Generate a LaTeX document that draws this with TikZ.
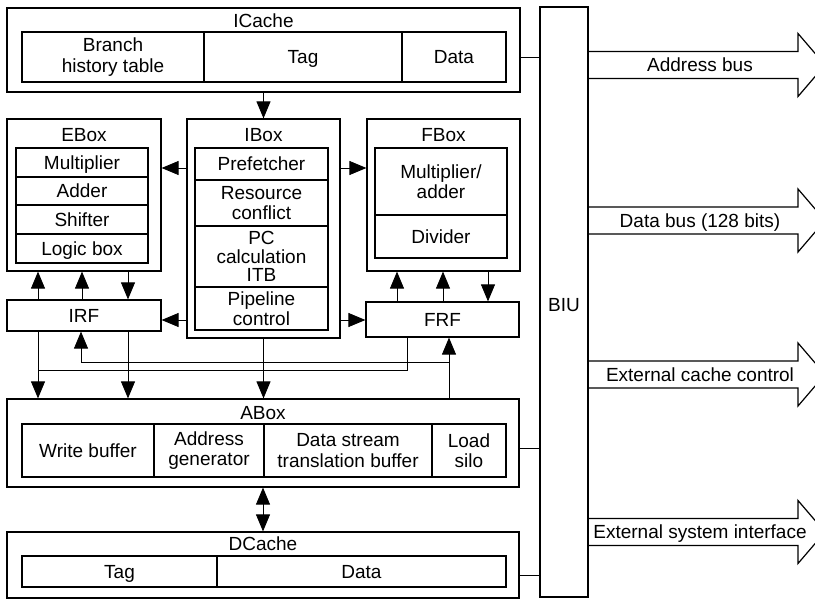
\documentclass[tikz,border=0pt]{standalone}
\usepackage{fontspec}
\setmainfont{Liberation Sans}
\usetikzlibrary{arrows.meta}
\tikzset{
  bxs/.style={draw, line width=1.2pt, inner sep=0pt, align=center},
  oneline/.style={text height=13.7pt, text depth=0pt},
  ttl/.style={inner sep=0pt, align=center},
  arr/.style={line width=0.9pt, -{Triangle[length=17pt,width=14pt]}},
  arrtwo/.style={line width=0.9pt, {Triangle[length=17pt,width=14pt]}-{Triangle[length=17pt,width=14pt]}},
  ln/.style={line width=0.9pt},
  bus/.style={line width=1.2pt, line join=miter},
}
\newcommand\mkbox[6]{\node[bxs, minimum width={(#4-#2)*1pt}, minimum height={(#5-#3)*1pt}] (#1) at ({(#2+#4)/2},{(#3+#5)/2}) {#6};}
\newcommand\mkboxs[6]{\node[bxs, oneline, minimum width={(#4-#2)*1pt}, minimum height={(#5-#3)*1pt}] (#1) at ({(#2+#4)/2},{(#3+#5)/2}) {#6};}
\newcommand\busarrow[3]{%
  \draw[bus] (BIU.east |- 0,#2-13.5) -- (798,#2-13.5) -- (798,#2-31.5) -- (825,#2) -- (798,#2+31.5) -- (798,#2+13.5) -- (BIU.east |- 0,#2+13.5);
  \node[ttl, oneline] (#1) at (700,#2) {#3};}
\begin{document}
\begin{tikzpicture}[x=1pt,y=-1pt,font=\fontsize{19}{20.5}\selectfont]
\useasboundingbox (0,0) rectangle (815,599);
\clip (0,0) rectangle (815,599);
% ICache
\mkbox{ICache}{7}{8}{520}{92}{}
\node[ttl, oneline] (ICacheT) at (263.5,21) {ICache};
\mkbox{ic1}{22}{32}{204}{82}{Branch\\history table}
\mkboxs{ic2}{204}{32}{402}{82}{Tag}
\mkboxs{ic3}{402}{32}{506}{82}{Data}
% EBox
\mkbox{EBox}{7}{119}{161}{271}{}
\node[ttl, oneline] (EBoxT) at (84,135) {EBox};
\mkboxs{eb1}{16}{148}{148}{177}{Multiplier}
\mkboxs{eb2}{16}{177}{148}{205}{Adder}
\mkboxs{eb3}{16}{205}{148}{234}{Shifter}
\mkboxs{eb4}{16}{234}{148}{263}{Logic box}
% IBox
\mkbox{IBox}{187}{119}{340}{338}{}
\node[ttl, oneline] (IBoxT) at (263.5,135) {IBox};
\mkboxs{ib1}{195}{148}{328}{180}{Prefetcher}
\mkbox{ib2}{195}{180}{328}{226}{Resource\\conflict}
\node[bxs, minimum width=133pt, minimum height=61pt, font=\fontsize{19}{18.5}\selectfont] (ib3) at (261.5,256.5) {PC\\calculation\\ITB};
\mkbox{ib4}{195}{287}{328}{330}{Pipeline\\control}
% FBox
\mkbox{FBox}{367}{119}{520}{271}{}
\node[ttl, oneline] (FBoxT) at (443.5,135) {FBox};
\mkbox{fb1}{375}{148}{507}{215}{Multiplier/\\adder}
\mkboxs{fb2}{375}{215}{507}{258}{Divider}
% register files
\mkboxs{IRF}{7}{300}{161}{331}{IRF}
\mkboxs{FRF}{366}{302}{519}{337}{FRF}
% ABox
\mkbox{ABox}{7}{399}{519}{487}{}
\node[ttl, oneline] (ABoxT) at (263,413) {ABox};
\mkboxs{ab1}{22}{424}{154}{477}{Write buffer}
\mkbox{ab2}{154}{424}{264}{477}{Address\\generator}
\mkbox{ab3}{264}{424}{432}{477}{Data stream\\translation buffer}
\mkbox{ab4}{432}{424}{506}{477}{Load\\silo}
% DCache
\mkbox{DCache}{7}{532}{519}{598}{}
\node[ttl, oneline] (DCacheT) at (263,544) {DCache};
\mkboxs{dc1}{22}{556}{217}{587}{Tag}
\mkboxs{dc2}{217}{556}{506}{587}{Data}
% BIU
\mkbox{BIU}{540}{7}{588}{597}{}
\node[ttl, oneline] (BIUT) at (564,305) {BIU};
% connectors to BIU
\draw[ln] (ICache.east |- 0,57) -- (BIU.west |- 0,57);
\draw[ln] (ABox.east |- 0,448) -- (BIU.west |- 0,448);
\draw[ln] (DCache.east |- 0,575) -- (BIU.west |- 0,575);
% ICache -> IBox
\draw[arr] (ICache.south) -- (IBox.north);
% IBox side arrows
\draw[arr] (IBox.west |- 0,168) -- (EBox.east |- 0,168);
\draw[arr] (IBox.east |- 0,168) -- (FBox.west |- 0,168);
\draw[arr] (IBox.west |- 0,320) -- (IRF.east |- 0,320);
\draw[arr] (IBox.east |- 0,320) -- (FRF.west |- 0,320);
% EBox <-> IRF
\draw[arr] (IRF.north -| 38,0) -- (EBox.south -| 38,0);
\draw[arr] (IRF.north -| 82,0) -- (EBox.south -| 82,0);
\draw[arr] (EBox.south -| 128,0) -- (IRF.north -| 128,0);
% FBox <-> FRF
\draw[arr] (FRF.north -| 397,0) -- (FBox.south -| 397,0);
\draw[arr] (FRF.north -| 443,0) -- (FBox.south -| 443,0);
\draw[arr] (FBox.south -| 488,0) -- (FRF.north -| 488,0);
% IRF -> ABox
\draw[arr] (IRF.south -| 38,0) -- (ABox.north -| 38,0);
\draw[arr] (IRF.south -| 128,0) -- (ABox.north -| 128,0);
% ABox -> FRF and IRF
\coordinate (j1) at (449,362);
\coordinate (j2) at (81,362);
\draw[arr] (ABox.north -| j1) -- (FRF.south -| j1);
\draw[arr] (j1) -- (j2) -- (IRF.south -| j2);
% FRF -> ABox (via left bus)
\coordinate (k1) at (407,370);
\coordinate (k2) at (38,370);
\draw[ln] (FRF.south -| k1) -- (k1) -- (k2);
% IBox -> ABox
\draw[arr] (IBox.south) -- (ABox.north -| IBox.south);
% ABox <-> DCache
\draw[arrtwo] (ABox.south -| 263,0) -- (DCache.north -| 263,0);
% bus arrows
\busarrow{addr}{65}{Address bus}
\busarrow{data}{220.5}{Data bus (128 bits)}
\busarrow{ecache}{374.5}{External cache control}
\busarrow{esys}{532}{External system interface}
\end{tikzpicture}
\end{document}
